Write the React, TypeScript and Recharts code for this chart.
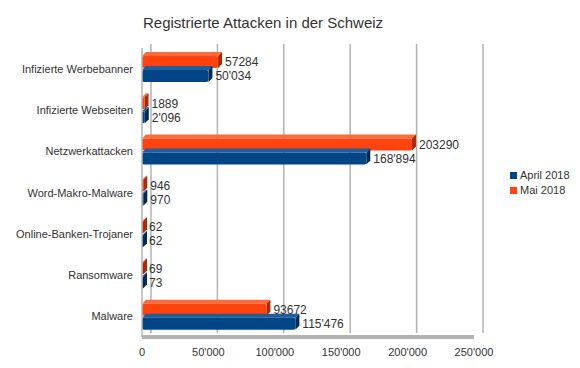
import React from 'react'
import {
  BarChart,
  Bar,
  XAxis,
  YAxis,
  CartesianGrid,
  LabelList,
} from 'recharts'

const categories = [
  'Infizierte Werbebanner',
  'Infizierte Webseiten',
  'Netzwerkattacken',
  'Word-Makro-Malware',
  'Online-Banken-Trojaner',
  'Ransomware',
  'Malware',
]
const april2018 = [50034, 2096, 168894, 970, 62, 73, 115476]
const mai2018 = [57284, 1889, 203290, 946, 62, 69, 93672]
const xTicks = [0, 50000, 100000, 150000, 200000, 250000]

const data = categories.map((name, i) => ({ name, april: april2018[i], mai: mai2018[i] }))

const FONT = '"Liberation Sans", Arial, sans-serif'
const BLUE = '#004586'
const ORANGE = '#ff420e'

const swiss = (v: number) => String(v).replace(/\B(?=(\d{3})+(?!\d))/g, "'")

// flat bar with a small fake 3D top and end face
const make3D = (front: string, top: string, side: string) => (props: any) => {
  const { x, y, width, height } = props
  const d = 4
  const w = Math.max(width, 1)
  return (
    <g>
      <polygon
        points={`${x},${y} ${x + d},${y - d} ${x + w + d},${y - d} ${x + w},${y}`}
        fill={top}
      />
      <polygon
        points={`${x + w},${y} ${x + w + d},${y - d} ${x + w + d},${y + height - d} ${x + w},${y + height}`}
        fill={side}
      />
      <rect x={x} y={y} width={w} height={height} rx={2} fill={front} />
    </g>
  )
}

const CatTick = (props: any) => {
  const { x, y, payload } = props
  return (
    <text x={x} y={y + 4} textAnchor="end" fill="#333" fontSize={11} fontFamily={FONT}>
      {payload.value}
    </text>
  )
}

const LegendBox = () => (
  <div
    style={{
      position: 'absolute',
      left: 510,
      top: 168,
      fontFamily: FONT,
      fontSize: 11,
      color: '#333',
      lineHeight: '15px',
    }}
  >
    {[
      { c: BLUE, t: 'April 2018' },
      { c: ORANGE, t: 'Mai 2018' },
    ].map((it) => (
      <div key={it.t} style={{ display: 'flex', alignItems: 'center' }}>
        <span style={{ width: 7, height: 7, background: it.c, marginRight: 3, display: 'inline-block' }} />
        {it.t}
      </div>
    ))}
  </div>
)

export default function App() {
  return (
    <div style={{ position: 'absolute', left: 0, top: 0, width: 580, height: 368, background: '#fff' }}>
      {/* push the grid back a little, like the back wall of the 3D original */}
      <style>{`.recharts-cartesian-grid { transform: translate(9px, -4px); }`}</style>
      <div
        style={{
          position: 'absolute',
          left: 143,
          top: 14,
          width: 240,
          textAlign: 'center',
          fontFamily: FONT,
          fontSize: 15,
          color: '#333',
          whiteSpace: 'nowrap',
        }}
      >
        Registrierte Attacken in der Schweiz
      </div>
      <BarChart
        width={580}
        height={368}
        data={data}
        layout="vertical"
        margin={{ top: 48, right: 106, left: 0, bottom: 7 }}
        barSize={12}
        barGap={2}
      >
        <CartesianGrid horizontal={false} stroke="#b3b3b3" strokeWidth={1.5} />
        <XAxis
          type="number"
          domain={[0, 250000]}
          ticks={xTicks}
          tickFormatter={swiss}
          height={24}
          tickSize={0}
          tickMargin={11}
          axisLine={{ stroke: '#b3b3b3', strokeWidth: 4 }}
          tick={{ fill: '#333', fontSize: 11, fontFamily: FONT }}
        />
        <YAxis
          type="category"
          dataKey="name"
          width={142}
          tickSize={0}
          tickMargin={9}
          axisLine={{ stroke: '#b3b3b3', strokeWidth: 1.5 }}
          tick={<CatTick />}
        />
        <Bar
          dataKey="mai"
          name="Mai 2018"
          fill={ORANGE}
          shape={make3D(ORANGE, '#ff6a3d', '#a82a08')}
          isAnimationActive={false}
        >
          <LabelList
            dataKey="mai"
            position="right"
            offset={7}
            style={{ fill: '#333', fontSize: 12, fontFamily: FONT }}
          />
        </Bar>
        <Bar
          dataKey="april"
          name="April 2018"
          fill={BLUE}
          shape={make3D(BLUE, '#1f5e9c', '#002a52')}
          isAnimationActive={false}
        >
          <LabelList
            dataKey="april"
            position="right"
            offset={7}
            formatter={(v: any) => swiss(Number(v))}
            style={{ fill: '#333', fontSize: 12, fontFamily: FONT }}
          />
        </Bar>
      </BarChart>
      <LegendBox />
    </div>
  )
}
